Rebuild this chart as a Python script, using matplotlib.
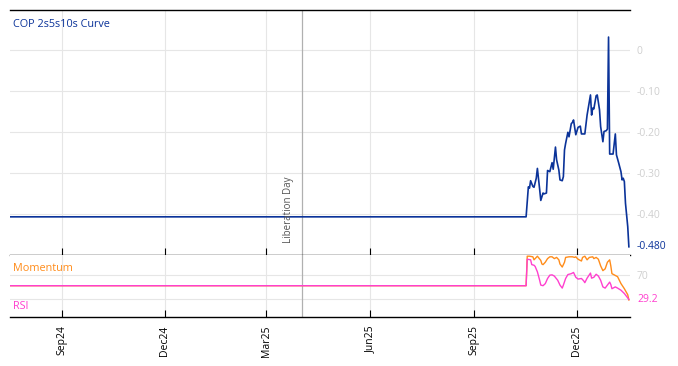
import pandas as pd
import matplotlib
matplotlib.use("Agg")
import matplotlib.pyplot as plt
import matplotlib.dates as mdates

plt.rcParams['font.family'] = ['Open Sans', 'DejaVu Sans']

# === Data ===
curve_dates = [
    "2024-07-17", "2025-10-17", "2025-10-19", "2025-10-20", "2025-10-21", "2025-10-23",
    "2025-10-24", "2025-10-26", "2025-10-27", "2025-10-29", "2025-10-30", "2025-11-01",
    "2025-11-02", "2025-11-04", "2025-11-05", "2025-11-07", "2025-11-08", "2025-11-09",
    "2025-11-10", "2025-11-12", "2025-11-13", "2025-11-15", "2025-11-16", "2025-11-18",
    "2025-11-19", "2025-11-20", "2025-11-21", "2025-11-23", "2025-11-24", "2025-11-26",
    "2025-11-27", "2025-11-28", "2025-11-30", "2025-12-02", "2025-12-04", "2025-12-05",
    "2025-12-08", "2025-12-10", "2025-12-13", "2025-12-14", "2025-12-15", "2025-12-16",
    "2025-12-18", "2025-12-19", "2025-12-21", "2025-12-22", "2025-12-24", "2025-12-25",
    "2025-12-27", "2025-12-28", "2025-12-29", "2025-12-30", "2026-01-02", "2026-01-04",
    "2026-01-05", "2026-01-07", "2026-01-09", "2026-01-10", "2026-01-11", "2026-01-12",
    "2026-01-13", "2026-01-15", "2026-01-16",
]
curve_values = [
    -0.407, -0.407, -0.334, -0.337, -0.319, -0.333,
    -0.335, -0.313, -0.289, -0.340, -0.367, -0.349,
    -0.351, -0.349, -0.294, -0.297, -0.286, -0.275,
    -0.291, -0.237, -0.268, -0.293, -0.317, -0.319,
    -0.309, -0.244, -0.228, -0.201, -0.212, -0.180,
    -0.177, -0.171, -0.207, -0.189, -0.186, -0.205,
    -0.205, -0.159, -0.110, -0.159, -0.142, -0.144,
    -0.112, -0.110, -0.146, -0.187, -0.224, -0.199,
    -0.197, -0.193, 0.031, -0.254, -0.254, -0.205,
    -0.256, -0.276, -0.297, -0.317, -0.313, -0.321,
    -0.374, -0.431, -0.480,
]

rsi_dates = [
    "2024-07-17", "2025-10-17", "2025-10-18", "2025-10-21", "2025-10-22", "2025-10-24",
    "2025-10-25", "2025-10-27", "2025-10-29", "2025-10-30", "2025-11-01", "2025-11-03",
    "2025-11-05", "2025-11-07", "2025-11-09", "2025-11-11", "2025-11-14", "2025-11-16",
    "2025-11-18", "2025-11-19", "2025-11-21", "2025-11-23", "2025-11-26", "2025-11-28",
    "2025-11-30", "2025-12-02", "2025-12-05", "2025-12-07", "2025-12-08", "2025-12-10",
    "2025-12-13", "2025-12-14", "2025-12-16", "2025-12-18", "2025-12-20", "2025-12-22",
    "2025-12-24", "2025-12-26", "2025-12-28", "2025-12-30", "2025-12-31", "2026-01-01",
    "2026-01-04", "2026-01-06", "2026-01-09", "2026-01-12", "2026-01-15", "2026-01-16",
]
rsi_values = [
    52, 52, 96, 95, 87, 86,
    84, 75, 61, 53, 52, 55.5,
    64, 69.5, 70, 68, 61, 53,
    48, 53, 64, 70.5, 72, 74,
    66, 63, 64, 60, 57, 64.5,
    73, 64.5, 66, 71, 68, 61,
    50, 48, 53, 58, 54, 47,
    50, 48, 44.5, 39, 31.7, 29.2,
]

mom_dates = [
    "2024-07-17", "2025-10-17", "2025-10-18", "2025-10-20", "2025-10-23", "2025-10-24",
    "2025-10-26", "2025-10-27", "2025-10-30", "2025-10-31", "2025-11-01", "2025-11-03",
    "2025-11-05", "2025-11-07", "2025-11-09", "2025-11-11", "2025-11-13", "2025-11-15",
    "2025-11-16", "2025-11-18", "2025-11-20", "2025-11-21", "2025-11-24", "2025-11-27",
    "2025-11-29", "2025-11-30", "2025-12-02", "2025-12-05", "2025-12-06", "2025-12-08",
    "2025-12-10", "2025-12-12", "2025-12-15", "2025-12-16", "2025-12-18", "2025-12-20",
    "2025-12-22", "2025-12-24", "2025-12-26", "2025-12-28", "2025-12-30", "2025-12-31",
    "2026-01-01", "2026-01-03", "2026-01-06", "2026-01-09", "2026-01-12", "2026-01-15",
    "2026-01-16",
]
mom_values = [
    52, 52, 101, 101, 100, 95,
    99, 101, 94, 88, 87, 91,
    97, 100, 100, 97, 99, 95,
    88, 83, 91, 99, 100, 100,
    99, 100, 96, 93, 99, 101,
    95, 99, 100, 97, 99, 96,
    85, 77, 80, 91, 95, 85,
    72, 70, 67, 55.5, 47, 37,
    28.3,
]

event_date = "2025-04-02"
event_label = "Liberation Day"
title = "COP 2s5s10s Curve"
curve_ticks = [0, -0.1, -0.2, -0.3, -0.4]
curve_tick_labels = ["0", "-0.10", "-0.20", "-0.30", "-0.40"]
month_ticks = ["2024-09-01", "2024-12-01", "2025-03-01", "2025-06-01", "2025-09-01", "2025-12-01"]

BLUE = "#0b3399"
PINK = "#ff3fcf"
ORANGE = "#ff8c1a"
GRID = "#e6e6e6"
TICKGREY = "#cfcfcf"

cd = pd.to_datetime(curve_dates)
rd = pd.to_datetime(rsi_dates)
md = pd.to_datetime(mom_dates)
ev = pd.Timestamp(event_date)
ticks = pd.to_datetime(month_ticks)

W, H = 678, 366
fig = plt.figure(figsize=(W / 100, H / 100), dpi=100)
ax = fig.add_axes([10 / W, (H - 255) / H, 620 / W, 245 / H])
ax2 = fig.add_axes([10 / W, (H - 317) / H, 620 / W, 62 / H], sharex=ax)

# === Top panel: curve ===
ax.plot(cd, curve_values, color=BLUE, lw=1.2, zorder=3)
ax.set_ylim(-0.50, 0.097)
ax.set_xlim(cd[0], cd[-1] + pd.Timedelta(days=1))
ax.set_yticks(curve_ticks)
ax.set_yticklabels(curve_tick_labels)
ax.yaxis.tick_right()
ax.tick_params(axis="y", length=0, pad=5, labelsize=7.5, labelcolor=TICKGREY)
ax.tick_params(axis="x", direction="in", length=5, color="black", labelbottom=False)
ax.grid(True, color=GRID, lw=0.8)
ax.set_axisbelow(True)
for s in ("left", "right"):
    ax.spines[s].set_visible(False)
for s in ("top", "bottom"):
    ax.spines[s].set_color("black")
    ax.spines[s].set_linewidth(1.0)
ax.axvline(ev, color="#b0b0b0", lw=0.9, zorder=2)
ax.text(ev - pd.Timedelta(days=12), -0.471, event_label, rotation=90, ha="center",
        va="bottom", fontsize=7, color="#555555")
ax.text(0.005, 0.94, title, transform=ax.transAxes, ha="left", va="center",
        fontsize=7.8, color=BLUE)
ax.annotate(f"{curve_values[-1]:.3f}", xy=(1, curve_values[-1]),
            xycoords=("axes fraction", "data"), xytext=(5, 0),
            textcoords="offset points", ha="left", va="center",
            fontsize=7.5, color=BLUE)

# === Lower panel: momentum / RSI ===
ax2.plot(md, mom_values, color=ORANGE, lw=1.0, zorder=3)
ax2.plot(rd, rsi_values, color=PINK, lw=1.0, zorder=4)
ax2.set_ylim(0, 103)
ax2.set_yticks([30, 70])
ax2.set_yticklabels(["", "70"])
ax2.yaxis.tick_right()
ax2.tick_params(axis="y", length=0, pad=5, labelsize=7.5, labelcolor=TICKGREY)
ax2.tick_params(axis="x", direction="in", length=5, color="black",
                labelsize=7.5, labelrotation=90, pad=6)
ax2.grid(True, color=GRID, lw=0.8)
ax2.set_axisbelow(True)
for s in ("left", "right", "top"):
    ax2.spines[s].set_visible(False)
ax2.spines["bottom"].set_color("black")
ax2.spines["bottom"].set_linewidth(1.0)
ax2.axvline(ev, color="#b0b0b0", lw=0.9, zorder=2)
ax2.text(0.005, 0.78, "Momentum", transform=ax2.transAxes, ha="left", va="center",
         fontsize=7.8, color=ORANGE)
ax2.text(0.005, 0.17, "RSI", transform=ax2.transAxes, ha="left", va="center",
         fontsize=7.8, color=PINK)
ax2.annotate(f"{rsi_values[-1]:.1f}", xy=(1, rsi_values[-1]),
             xycoords=("axes fraction", "data"), xytext=(5, 0),
             textcoords="offset points", ha="left", va="center",
             fontsize=7.5, color=PINK)

ax2.set_xticks(ticks)
ax2.xaxis.set_major_formatter(mdates.DateFormatter("%b%y"))

fig.savefig("out.png", dpi=100)
